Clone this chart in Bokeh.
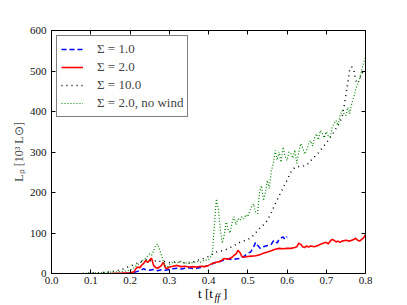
from bokeh.plotting import figure
from bokeh.layouts import column
from bokeh.models import FixedTicker, LinearAxis, Legend, LegendItem, Range1d, PrintfTickFormatter
from bokeh.core.properties import value
from bokeh.embed import file_html
from bokeh.resources import INLINE

# ---- data ----
t_s1 = [0.19, 0.205, 0.215, 0.225, 0.235, 0.24, 0.25, 0.26, 0.27, 0.28, 0.29, 0.30, 0.31, 0.32, 0.33,
        0.34, 0.35, 0.36, 0.37, 0.38, 0.39, 0.40, 0.41, 0.42, 0.43, 0.44, 0.45, 0.46, 0.47, 0.48, 0.49,
        0.50, 0.507, 0.515, 0.52, 0.525, 0.532, 0.54, 0.55, 0.56, 0.565, 0.57, 0.575, 0.58, 0.585, 0.59,
        0.595, 0.60]
L_s1 = [0, 1, 4, 7, 12, 9, 8, 10, 7, 9, 8, 10, 12, 13, 11,
        13, 14, 12, 13, 15, 17, 20, 24, 28, 30, 33, 36, 34, 36, 37, 42,
        50, 53, 65, 77, 70, 62, 66, 69, 72, 80, 81, 75, 85, 88, 90,
        84, 91]

t_s2 = [0.15, 0.18, 0.20, 0.21, 0.215, 0.22, 0.225, 0.23, 0.235, 0.24, 0.245, 0.25, 0.255, 0.26, 0.265,
        0.27, 0.275, 0.28, 0.285, 0.29, 0.295, 0.30, 0.31, 0.32, 0.33, 0.34, 0.35, 0.36, 0.37, 0.38,
        0.39, 0.40, 0.41, 0.42, 0.43, 0.44, 0.45, 0.46, 0.465, 0.47, 0.475, 0.48, 0.485, 0.49, 0.50,
        0.51, 0.52, 0.53, 0.54, 0.55, 0.56, 0.57, 0.58, 0.59, 0.60, 0.61, 0.62, 0.625, 0.63, 0.635,
        0.64, 0.645, 0.65, 0.655, 0.66, 0.67, 0.68, 0.69, 0.70, 0.705, 0.71, 0.715, 0.72, 0.725, 0.73,
        0.735, 0.74, 0.75, 0.76, 0.77, 0.775, 0.78, 0.785, 0.79, 0.795, 0.80]
L_s2 = [0, 1, 2, 4, 12, 16, 14, 21, 25, 32, 27, 33, 38, 20, 15,
        13, 16, 20, 28, 14, 12, 16, 18, 20, 17, 18, 16, 17, 16, 18,
        17, 20, 25, 28, 30, 37, 35, 40, 45, 48, 57, 52, 42, 40, 42,
        43, 44, 46, 50, 53, 56, 60, 62, 61, 62, 62, 64, 66, 75, 72,
        66, 64, 68, 65, 68, 66, 70, 74, 77, 73, 80, 84, 82, 78, 80,
        77, 80, 82, 80, 84, 87, 82, 80, 84, 88, 96]

t_s10 = [0.08, 0.10, 0.12, 0.14, 0.15, 0.16, 0.18, 0.20, 0.22, 0.24, 0.245, 0.25, 0.26, 0.27, 0.28,
         0.29, 0.30, 0.31, 0.32, 0.33, 0.34, 0.35, 0.36, 0.37, 0.38, 0.39, 0.40, 0.42, 0.44, 0.46,
         0.48, 0.50, 0.51, 0.52, 0.53, 0.54, 0.55, 0.56, 0.57, 0.58, 0.59, 0.60, 0.61, 0.62, 0.63,
         0.64, 0.65, 0.66, 0.67, 0.68, 0.69, 0.70, 0.71, 0.72, 0.73, 0.74, 0.745, 0.75, 0.755, 0.76,
         0.765, 0.77, 0.775, 0.78, 0.785, 0.79, 0.80]
L_s10 = [0, 1, 2, 3, 4, 6, 10, 18, 26, 34, 36, 32, 30, 33, 28,
         30, 27, 28, 30, 27, 26, 25, 28, 32, 35, 38, 42, 53, 57, 66,
         77, 84, 90, 100, 111, 120, 131, 150, 172, 192, 212, 230, 250, 262, 264,
         265, 267, 278, 288, 298, 310, 322, 336, 350, 366, 385, 410, 440, 470, 505,
         510, 505, 477, 469, 480, 493, 505]

t_nw = [0.08, 0.10, 0.12, 0.14, 0.16, 0.18, 0.20, 0.21, 0.22, 0.23, 0.24, 0.245, 0.25, 0.255, 0.26,
        0.265, 0.27, 0.275, 0.28, 0.285, 0.29, 0.295, 0.30, 0.31, 0.32, 0.33, 0.34, 0.35, 0.36, 0.37,
        0.38, 0.39, 0.40, 0.405, 0.41, 0.415, 0.42, 0.425, 0.43, 0.435, 0.44, 0.445, 0.45, 0.455, 0.46,
        0.465, 0.47, 0.475, 0.48, 0.485, 0.49, 0.495, 0.50, 0.505, 0.51, 0.515, 0.52, 0.525, 0.53, 0.535,
        0.54, 0.545, 0.55, 0.555, 0.56, 0.565, 0.57, 0.575, 0.58, 0.585, 0.59, 0.595, 0.60, 0.605, 0.61,
        0.615, 0.62, 0.625, 0.63, 0.635, 0.64, 0.645, 0.65, 0.655, 0.66, 0.665, 0.67, 0.675, 0.68, 0.685,
        0.69, 0.695, 0.70, 0.705, 0.71, 0.715, 0.72, 0.725, 0.73, 0.735, 0.74, 0.745, 0.75, 0.755, 0.76,
        0.765, 0.77, 0.775, 0.78, 0.785, 0.79, 0.795, 0.80]
L_nw = [0, 1, 2, 3, 4, 5, 8, 14, 22, 30, 38, 44, 48, 45, 55,
        68, 73, 60, 45, 30, 18, 16, 22, 28, 26, 30, 25, 28, 26, 30,
        28, 33, 34, 40, 50, 120, 184, 160, 110, 75, 95, 127, 110, 100, 125,
        140, 120, 135, 131, 140, 135, 145, 140, 155, 165, 172, 150, 148, 200, 217,
        180, 200, 230, 210, 254, 270, 304, 280, 300, 275, 312, 290, 279, 300, 296,
        285, 305, 272, 300, 321, 310, 295, 304, 320, 328, 315, 335, 345, 330, 353,
        345, 335, 350, 340, 337, 360, 370, 378, 365, 390, 402, 395, 390, 410, 395,
        420, 435, 455, 469, 480, 501, 520, 534]

x_ticks = [0.0, 0.1, 0.2, 0.3, 0.4, 0.5, 0.6, 0.7, 0.8]
y_ticks = [0, 100, 200, 300, 400, 500, 600]
labels = ["Σ = 1.0", "Σ = 2.0", "Σ = 10.0", "Σ = 2.0, no wind"]
y_label = "Lₚ [10³ L⊙]"
x_label_parts = ["t [t", "ff", "]"]

FONT = "Liberation Serif"

p = figure(width=407, height=295, output_backend="svg", toolbar_location=None,
           x_range=Range1d(0, 0.8), y_range=Range1d(0, 600),
           min_border_left=51, min_border_right=42, min_border_top=30, min_border_bottom=22)
p.grid.visible = False
p.outline_line_color = None
p.background_fill_color = "white"
p.border_fill_color = "white"

r1 = p.line(t_s1, L_s1, line_color="#0000ff", line_width=1.5, line_dash="5 3")
r2 = p.line(t_s2, L_s2, line_color="#ff0000", line_width=1.6)
r3 = p.line(t_s10, L_s10, line_color="black", line_width=1.5, line_dash="1 4")
r4 = p.line(t_nw, L_nw, line_color="#008000", line_width=1.2, line_dash="1 2")

def style_axis(ax, show_labels, standoff):
    ax.axis_line_color = "black"
    ax.axis_line_width = 1
    ax.major_tick_in = 4
    ax.major_tick_out = 0
    ax.minor_tick_line_color = None
    ax.major_tick_line_color = "black"
    ax.major_label_text_font = FONT
    ax.major_label_text_font_size = "11px"
    ax.major_label_text_color = "#111111" if show_labels else None
    ax.major_label_standoff = standoff

p.xaxis.ticker = FixedTicker(ticks=x_ticks)
p.xaxis.formatter = PrintfTickFormatter(format="%.1f")
p.yaxis.ticker = FixedTicker(ticks=y_ticks)
style_axis(p.xaxis[0], True, 3)
style_axis(p.yaxis[0], True, 5)
p.yaxis.axis_label = y_label
p.yaxis.axis_label_text_font = FONT
p.yaxis.axis_label_text_font_size = "12px"
p.yaxis.axis_label_text_font_style = "normal"
p.yaxis.axis_label_standoff = 1

top = LinearAxis(ticker=FixedTicker(ticks=x_ticks))
style_axis(top, False, 4)
p.add_layout(top, "above")
right = LinearAxis(ticker=FixedTicker(ticks=y_ticks))
style_axis(right, False, 4)
p.add_layout(right, "right")

legend = Legend(items=[LegendItem(label=labels[0], renderers=[r1]),
                       LegendItem(label=labels[1], renderers=[r2]),
                       LegendItem(label=labels[2], renderers=[r3]),
                       LegendItem(label=labels[3], renderers=[r4])],
                location="top_left")
legend.label_text_font = FONT
legend.label_text_font_size = "13px"
legend.border_line_color = "black"
legend.border_line_width = 1
legend.margin = 5
legend.padding = 4
legend.spacing = 0
legend.glyph_width = 22
legend.glyph_height = 18
legend.label_height = 18
legend.label_standoff = 14
legend.background_fill_alpha = 1
p.add_layout(legend)

# x-axis label (with subscript) drawn in a thin transparent strip overlapping the bottom border
lab = figure(width=407, height=23, output_backend="svg", toolbar_location=None,
             x_range=Range1d(0, 407), y_range=Range1d(0, 23),
             x_axis_type=None, y_axis_type=None, min_border=0,
             min_border_left=0, min_border_right=0, min_border_top=0, min_border_bottom=0,
             outline_line_color=None, background_fill_color=None, border_fill_color=None)
lab.grid.visible = False
lab.margin = (-13, 0, 0, 0)
anchor = [190]
lab.text(x=anchor, y=[12], text=[x_label_parts[0]], text_font=value(FONT), text_font_size="13px",
         text_baseline="alphabetic", text_align="left", text_color="black")
lab.text(x=anchor, y=[8], x_offset=16.5, text=[x_label_parts[1]], text_font=value(FONT), text_font_size="10px",
         text_font_style="italic", text_baseline="alphabetic", text_align="left", text_color="black")
lab.text(x=anchor, y=[12], x_offset=25, text=[x_label_parts[2]], text_font=value(FONT), text_font_size="13px",
         text_baseline="alphabetic", text_align="left", text_color="black")

layout = column(p, lab, spacing=0)
open("out.html", "w").write(file_html(layout, INLINE))
